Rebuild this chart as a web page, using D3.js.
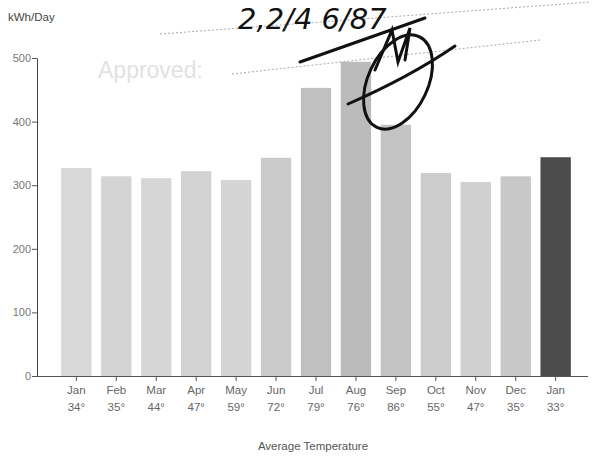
<!DOCTYPE html>
<html lang="en">
<head>
<meta charset="utf-8">
<style>
  html, body { margin: 0; padding: 0; background: #fff; }
  svg { display: block; font-family: "Liberation Sans", Arial, sans-serif; }
</style>
</head>
<body>
<script src="https://cdn.jsdelivr.net/npm/d3@7"></script>
<script>
// data
var months = ['Jan', 'Feb', 'Mar', 'Apr', 'May', 'Jun', 'Jul', 'Aug', 'Sep', 'Oct', 'Nov', 'Dec', 'Jan'];
var temps = ['34°', '35°', '44°', '47°', '59°', '72°', '79°', '76°', '86°', '55°', '47°', '35°', '33°'];
var kwh = [327, 314, 311, 322, 308, 343, 453, 494, 395, 319, 305, 314, 344];
var yTicks = [0, 100, 200, 300, 400, 500];

// grey shade of each bar (the last one is the current month)
var shades = ['#d8d8d8', '#d4d4d4', '#d6d6d6', '#d2d2d2', '#d4d4d4', '#cbcbcb', '#c0c0c0',
              '#bbbbbb', '#c3c3c3', '#cccccc', '#d0d0d0', '#c8c8c8', '#4c4c4c'];

var W = 593, H = 456;
var margin = {left: 37, top: 58, right: 16, bottom: 80};

var svg = d3.select('body').append('svg')
    .attr('width', W)
    .attr('height', H);

var x = d3.scaleBand()
    .domain(d3.range(months.length))
    .range([46, 586])
    .paddingInner(0.24)
    .paddingOuter(0.38);

var y = d3.scaleLinear()
    .domain([0, 500])
    .range([H - margin.bottom, margin.top]);

// faint "Approved" stamp behind everything
svg.append('text')
    .attr('x', 98).attr('y', 78)
    .attr('font-size', 23)
    .attr('fill', '#e2e2e2')
    .text('Approved:');

// bars
svg.selectAll('rect.bar')
    .data(kwh)
    .enter().append('rect')
    .attr('class', 'bar')
    .attr('x', (d, i) => x(i))
    .attr('y', d => y(d))
    .attr('width', x.bandwidth())
    .attr('height', d => y(0) - y(d))
    .attr('fill', (d, i) => shades[i]);

// y axis
var yAxis = svg.append('g')
    .attr('transform', 'translate(' + margin.left + ',0)')
    .call(d3.axisLeft(y).tickValues(yTicks).tickSize(5).tickSizeOuter(0));
yAxis.select('.domain').attr('stroke', '#444');
yAxis.selectAll('.tick line').attr('stroke', '#555');
yAxis.selectAll('.tick text')
    .attr('font-size', 11)
    .attr('fill', '#777')
    .attr('font-family', '"Liberation Sans", Arial, sans-serif')
    .attr('dx', 2);

// x axis line + ticks under bars
svg.append('line')
    .attr('x1', 32).attr('x2', 588)
    .attr('y1', y(0) + 0.5).attr('y2', y(0) + 0.5)
    .attr('stroke', '#555');

var xt = svg.append('g')
    .selectAll('g')
    .data(months)
    .enter().append('g')
    .attr('transform', (d, i) => 'translate(' + (x(i) + x.bandwidth() / 2) + ',' + y(0) + ')');
xt.append('line')
    .attr('y1', 0).attr('y2', 5)
    .attr('stroke', '#555');
xt.append('text')
    .attr('y', 18)
    .attr('text-anchor', 'middle')
    .attr('font-size', 11.5)
    .attr('fill', '#666')
    .text(d => d);
xt.append('text')
    .attr('y', 35)
    .attr('text-anchor', 'middle')
    .attr('font-size', 11.5)
    .attr('fill', '#666')
    .text((d, i) => temps[i]);

// titles
svg.append('text')
    .attr('x', 8).attr('y', 21)
    .attr('font-size', 11.5)
    .attr('fill', '#444')
    .text('kWh/Day');

svg.append('text')
    .attr('x', 313).attr('y', 450)
    .attr('text-anchor', 'middle')
    .attr('font-size', 11.5)
    .attr('fill', '#555')
    .text('Average Temperature');

// handwritten approval marks on top of the scan
svg.append('path')
    .attr('d', 'M160,34 L590,2')
    .attr('stroke', '#aaa').attr('stroke-width', 1).attr('stroke-dasharray', '2,2')
    .attr('fill', 'none');
svg.append('path')
    .attr('d', 'M232,74 L540,40')
    .attr('stroke', '#aaa').attr('stroke-width', 1).attr('stroke-dasharray', '2,2')
    .attr('fill', 'none');

svg.append('text')
    .attr('x', 238).attr('y', 29)
    .attr('font-family', '"DejaVu Sans", sans-serif')
    .attr('font-style', 'italic')
    .attr('font-size', 29)
    .attr('fill', '#111')
    .text('2,2/4 6/87');

var sig = svg.append('g')
    .attr('fill', 'none')
    .attr('stroke', '#111')
    .attr('stroke-width', 3)
    .attr('stroke-linecap', 'round');
sig.append('ellipse')
    .attr('cx', 398).attr('cy', 82)
    .attr('rx', 50).attr('ry', 30)
    .attr('transform', 'rotate(-65,398,82)');
sig.append('path').attr('d', 'M300,62 C340,48 380,34 425,18');
sig.append('path').attr('d', 'M348,104 C380,90 420,70 455,46');
sig.append('path').attr('d', 'M375,70 L392,30 L398,62 L410,28 L405,60');
</script>
</body>
</html>
